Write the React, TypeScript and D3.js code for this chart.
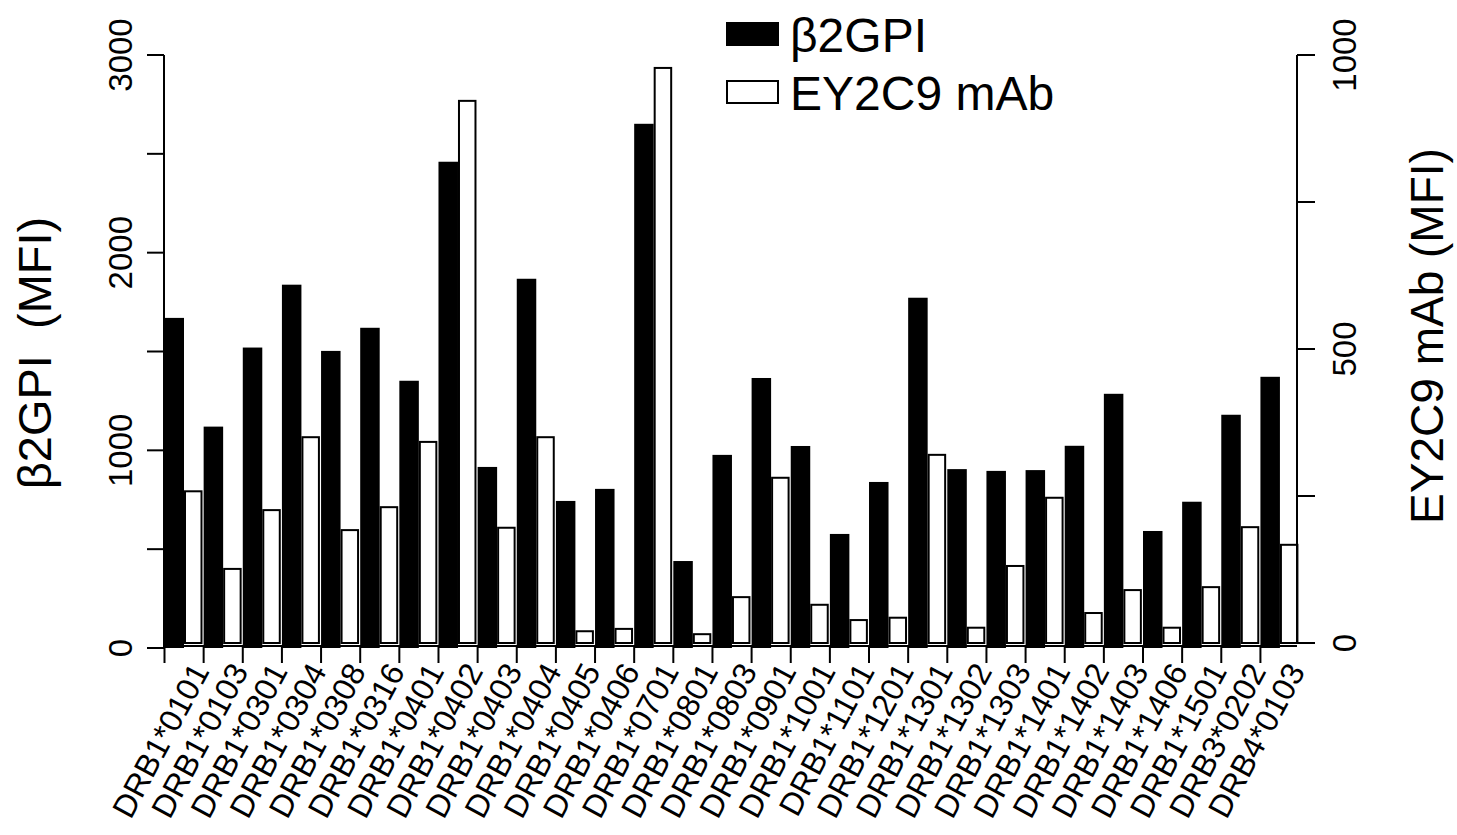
import React from "react";
import * as d3 from "d3";

const categories = [
  "DRB1*0101", "DRB1*0103", "DRB1*0301", "DRB1*0304", "DRB1*0308", "DRB1*0316",
  "DRB1*0401", "DRB1*0402", "DRB1*0403", "DRB1*0404", "DRB1*0405", "DRB1*0406",
  "DRB1*0701", "DRB1*0801", "DRB1*0803", "DRB1*0901", "DRB1*1001", "DRB1*1101",
  "DRB1*1201", "DRB1*1301", "DRB1*1302", "DRB1*1303", "DRB1*1401", "DRB1*1402",
  "DRB1*1403", "DRB1*1406", "DRB1*1501", "DRB3*0202", "DRB4*0103",
];
const b2gpi = [
  1670, 1120, 1520, 1838, 1503, 1620, 1352, 2460, 916, 1868, 744, 805,
  2652, 440, 977, 1366, 1022, 577, 840, 1772, 905, 896, 900, 1023,
  1286, 592, 740, 1180, 1372,
];
const ey2c9 = [
  258, 126, 226, 350, 192, 231, 342, 922, 196, 350, 20, 24,
  978, 15, 78, 281, 65, 39, 43, 320, 26, 131, 247, 51,
  90, 26, 95, 197, 167,
];
const leftTicks = [0, 500, 1000, 1500, 2000, 2500, 3000];
const leftTickLabels = [0, 1000, 2000, 3000];
const rightTicks = [0, 250, 500, 750, 1000];
const rightTickLabels = [0, 500, 1000];
const seriesNames = ["β2GPI", "EY2C9 mAb"];

const FONT = "'Liberation Sans', Arial, Helvetica, sans-serif";

export default function App() {
  const W = 1457, H = 835;
  const x0 = 164, step = 39.14;
  const x = d3.scaleBand<string>().domain(categories).range([x0, x0 + step * categories.length]).padding(0);
  const yL = d3.scaleLinear().domain([0, 3000]).range([648, 55]);
  const yR = d3.scaleLinear().domain([0, 1000]).range([643, 55]);
  const rightX = 1297;

  return (
    <svg width={W} height={H} style={{ position: "absolute", left: 0, top: 0, background: "#fff" }} fontFamily={FONT}>
      <rect width={W} height={H} fill="#fff" />
      {/* bars */}
      {categories.map((c, i) => {
        const bx = x(c)!;
        return (
          <g key={c}>
            <rect x={bx + 0.5} y={yL(b2gpi[i])} width={19.5} height={yL(0) - yL(b2gpi[i])} fill="#000" />
            <rect x={bx + 21} y={yR(ey2c9[i])} width={16.5} height={yR(0) - yR(ey2c9[i])} fill="#fff" stroke="#000" strokeWidth={2} />
          </g>
        );
      })}
      {/* baseline */}
      <line x1={x0} x2={rightX} y1={646} y2={646} stroke="#000" strokeWidth={2} />
      {/* x ticks */}
      {categories.map((c) => (
        <line key={"t" + c} x1={x(c)! + 0.5} x2={x(c)! + 0.5} y1={647} y2={663} stroke="#000" strokeWidth={2} />
      ))}
      {/* x labels */}
      {categories.map((c) => {
        const ax = x(c)! + 46, ay = 671;
        return (
          <text key={"l" + c} x={ax} y={ay} fontSize={32} textAnchor="end" transform={`rotate(-62,${ax},${ay})`}>
            {c}
          </text>
        );
      })}
      {/* left axis */}
      <line x1={x0} x2={x0} y1={yL(3000)} y2={yL(0)} stroke="#000" strokeWidth={2} />
      {leftTicks.map((t) => (
        <line key={"lt" + t} x1={147} x2={x0} y1={yL(t)} y2={yL(t)} stroke="#000" strokeWidth={2} />
      ))}
      {leftTickLabels.map((t) => (
        <text key={"ll" + t} x={132} y={yL(t)} fontSize={33} textAnchor="middle" transform={`rotate(-90,132,${yL(t)})`}>
          {t}
        </text>
      ))}
      <text x={51} y={353} fontSize={47} textAnchor="middle" transform="rotate(-90,51,353)" style={{ whiteSpace: "pre" }}>
        {"β2GPI  (MFI)"}
      </text>
      {/* right axis */}
      <line x1={rightX} x2={rightX} y1={yR(1000)} y2={yR(0)} stroke="#000" strokeWidth={2} />
      {rightTicks.map((t) => (
        <line key={"rt" + t} x1={rightX} x2={1315} y1={yR(t)} y2={yR(t)} stroke="#000" strokeWidth={2} />
      ))}
      {rightTickLabels.map((t) => (
        <text key={"rl" + t} x={1356} y={yR(t)} fontSize={33} textAnchor="middle" transform={`rotate(-90,1356,${yR(t)})`}>
          {t}
        </text>
      ))}
      <text x={1443} y={336} fontSize={46} textAnchor="middle" transform="rotate(-90,1443,336)">
        {"EY2C9 mAb (MFI)"}
      </text>
      {/* legend */}
      <rect x={727} y={23} width={51} height={22} fill="#000" stroke="#000" strokeWidth={2} />
      <text x={790} y={52} fontSize={48}>{seriesNames[0]}</text>
      <rect x={727} y={81} width={51} height={22} fill="#fff" stroke="#000" strokeWidth={2} />
      <text x={790} y={110} fontSize={48}>{seriesNames[1]}</text>
    </svg>
  );
}
